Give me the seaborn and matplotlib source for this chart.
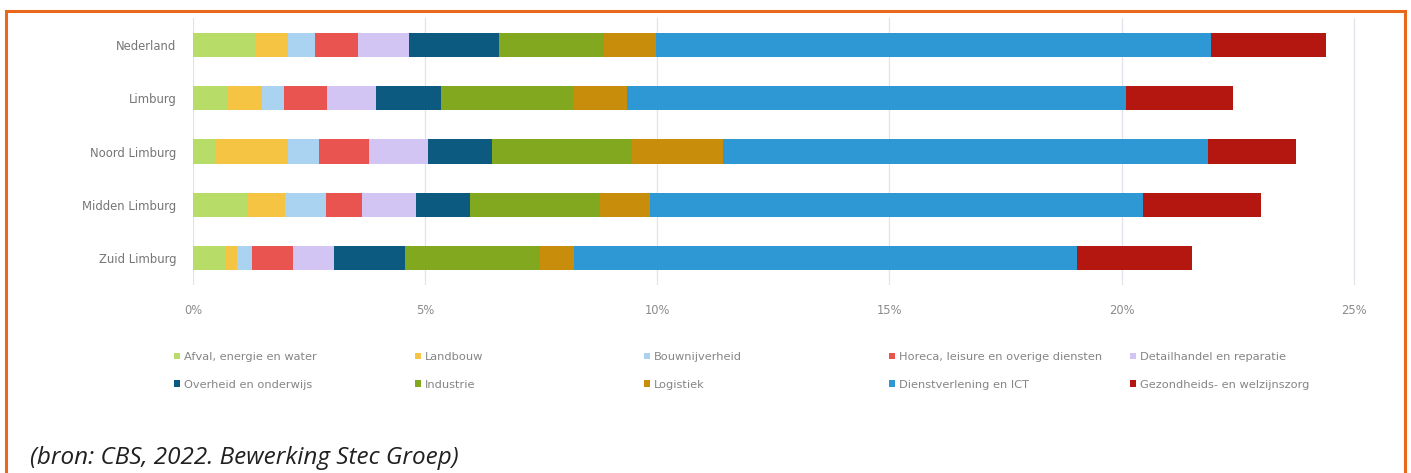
import numpy as np
import pandas as pd
import matplotlib
matplotlib.use("Agg")
import matplotlib.pyplot as plt
from matplotlib.patches import Patch, Rectangle
import seaborn as sns

# ---- data ----
regions = ["Nederland", "Limburg", "Noord Limburg", "Midden Limburg", "Zuid Limburg"]
sectors = ["Afval, energie en water", "Landbouw", "Bouwnijverheid",
           "Horeca, leisure en overige diensten", "Detailhandel en reparatie",
           "Overheid en onderwijs", "Industrie", "Logistiek",
           "Dienstverlening en ICT", "Gezondheids- en welzijnszorg"]
afval      = [1.36, 0.73, 0.50, 1.16, 0.70]
landbouw   = [0.68, 0.75, 1.55, 0.83, 0.25]
bouw       = [0.59, 0.49, 0.67, 0.87, 0.33]
horeca     = [0.92, 0.92, 1.07, 0.78, 0.87]
detail     = [1.11, 1.06, 1.28, 1.16, 0.89]
overheid   = [1.94, 1.40, 1.38, 1.16, 1.53]
industrie  = [2.25, 2.85, 3.00, 2.81, 2.91]
logistiek  = [1.13, 1.14, 1.96, 1.08, 0.72]
dienst     = [11.94, 10.76, 10.45, 10.61, 10.85]
gezondheid = [2.48, 2.30, 1.89, 2.54, 2.47]
xticks = [0, 5, 10, 15, 20, 25]
xticklabels = ["0%", "5%", "10%", "15%", "20%", "25%"]
caption = "(bron: CBS, 2022. Bewerking Stec Groep)"

series = [afval, landbouw, bouw, horeca, detail, overheid, industrie,
          logistiek, dienst, gezondheid]
colors = ["#b7dc68", "#f6c443", "#a9d3f0", "#ea5450", "#d3c5f3",
          "#0d5a80", "#82a81f", "#c98d0c", "#2d98d3", "#b3170f"]

df = pd.DataFrame({s: v for s, v in zip(sectors, series)}, index=regions)
cum = df.cumsum(axis=1)

sns.set_theme(style="white")
plt.rcParams["font.family"] = ["DejaVu Sans"]

fig = plt.figure(figsize=(14.11, 4.73), dpi=100)
ax = fig.add_axes([193 / 1411, 1 - 285 / 473, (1356 - 193) / 1411, (285 - 18) / 473])

# draw cumulative bars from the outermost segment inward
for sec, col in zip(reversed(sectors), reversed(colors)):
    d = pd.DataFrame({"region": regions, "value": cum[sec].values})
    sns.barplot(data=d, x="value", y="region", order=regions, color=col,
                width=0.45, orient="h", ax=ax, saturation=1, linewidth=0,
                zorder=3)

ax.set_xlim(0, 25.05)
ax.set_ylim(4.5, -0.5)
ax.set_xticks(xticks)
ax.set_xticklabels(xticklabels)
ax.set_xlabel("")
ax.set_ylabel("")
ax.grid(axis="x", color="#e2e2ea", linewidth=0.9, zorder=0)
ax.grid(axis="y", visible=False)
for sp in ax.spines.values():
    sp.set_visible(False)
ax.tick_params(axis="x", length=0, pad=14, labelsize=8.3, labelcolor="#8a8a8a")
ax.tick_params(axis="y", length=0, pad=12, labelsize=8.4, labelcolor="#767676")

# legend: 5 columns of two entries
col_x = [174, 415, 644, 889, 1130]
for c in range(5):
    idx = [c, c + 5]
    handles = [Patch(facecolor=colors[i], edgecolor="none") for i in idx]
    labels = [sectors[i] for i in idx]
    leg = fig.legend(handles, labels, loc="upper left",
                     bbox_to_anchor=(col_x[c] / 1411, 1 - 352 / 473),
                     frameon=False, fontsize=8.2, handlelength=0.55,
                     handleheight=0.55, handletextpad=0.3, labelspacing=1.55,
                     borderpad=0, borderaxespad=0)
    for t in leg.get_texts():
        t.set_color("#858585")

fig.text(30 / 1411, 1 - 458 / 473, caption, fontsize=17.5, style="italic",
         family=["Open Sans", "DejaVu Sans"], color="#202020",
         ha="left", va="center")

# orange frame
fig.patches.append(Rectangle((6 / 1411, -0.1), (1405 - 6) / 1411, 1.1 - 11 / 473,
                             transform=fig.transFigure, fill=False,
                             edgecolor="#e8691c", linewidth=2.2,
                             clip_on=False))

fig.savefig("out.png", dpi=100, facecolor="white")
